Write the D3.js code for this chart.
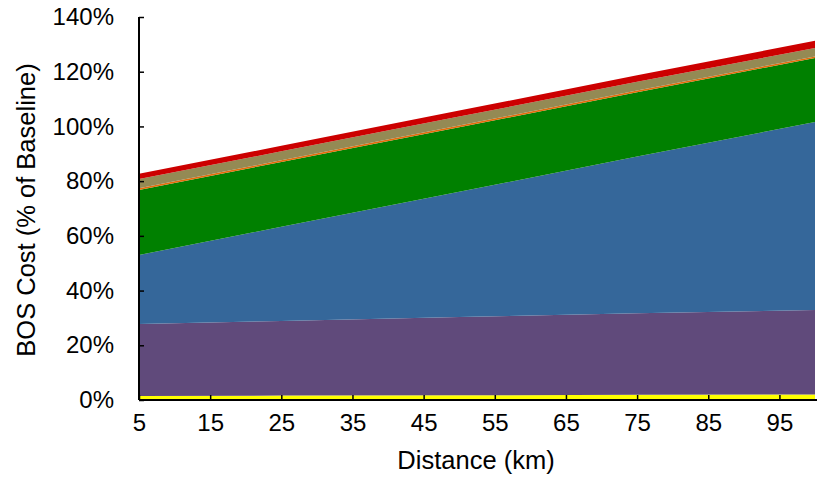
<!DOCTYPE html>
<html><head><meta charset="utf-8">
<script src="https://cdn.jsdelivr.net/npm/d3@7"></script>
<style>body{margin:0;background:#fff}svg{display:block}text{font-family:Arial,"Liberation Sans",sans-serif;fill:#000}</style>
</head><body><svg id="c" width="817" height="478"></svg>
<script>
const distances = [5, 25, 50, 75, 100];
const seriesNames = ["Development", "Substructure", "Electrical", "Assembly", "Port", "Engineering", "Soft"];
const seriesColors = ["#FFFF00", "#604A7B", "#35679A", "#008000", "#E46C0A", "#948A54", "#CC0000"];
const development  = [1.5, 1.6, 1.7, 1.9, 2.0];
const substructure = [26.3, 27.3, 28.6, 29.8, 30.9];
const electrical   = [25.2, 34.4, 45.8, 57.3, 68.7];
const assembly     = [23.8, 23.7, 23.6, 23.5, 23.4];
const port         = [0.6, 0.6, 0.6, 0.6, 0.6];
const engineering  = [3.4, 3.3, 3.3, 3.2, 3.1];
const soft         = [1.9, 2.0, 2.2, 2.4, 2.6];
const xTicks = [5, 15, 25, 35, 45, 55, 65, 75, 85, 95];
const yTicks = [0, 20, 40, 60, 80, 100, 120, 140];

const seriesValues = [development, substructure, electrical, assembly, port, engineering, soft];
const rows = distances.map((d, i) => {
  const r = {d};
  seriesNames.forEach((n, j) => r[n] = seriesValues[j][i]);
  return r;
});

const svg = d3.select("#c");
const x = d3.scaleLinear().domain([5, 100]).range([139, 815]);
const y = d3.scaleLinear().domain([0, 140]).range([400, 17]);

const stack = d3.stack().keys(seriesNames)(rows);
const area = d3.area().x(d => x(d.data.d)).y0(d => y(d[0])).y1(d => y(d[1]));

svg.append("g").selectAll("path").data(stack).join("path")
  .attr("d", area).attr("fill", (d, i) => seriesColors[i]);

// axes
const fs = 24;
const yAxis = svg.append("g").attr("transform", "translate(139,0)")
  .call(d3.axisLeft(y).tickValues(yTicks).tickFormat(d => d + "%").tickSizeInner(-5).tickSizeOuter(0).tickPadding(25));
const xAxis = svg.append("g").attr("transform", "translate(0,400)")
  .call(d3.axisBottom(x).tickValues(xTicks).tickFormat(d3.format("d")).tickSizeInner(-5).tickSizeOuter(0).tickPadding(14));
[yAxis, xAxis].forEach(a => {
  a.select(".domain").attr("stroke", "#000").attr("stroke-width", 2);
  a.selectAll(".tick line").attr("stroke", "#000").attr("stroke-width", 1.5);
  a.selectAll("text").attr("font-size", fs).attr("font-family", "Arial, 'Liberation Sans', sans-serif").attr("fill", "#000");
});
yAxis.select(".domain").attr("d", "M0,17V400");
xAxis.select(".domain").attr("d", "M139,0H817");

svg.append("text").attr("x", 476).attr("y", 469).attr("text-anchor", "middle")
  .attr("font-size", 25.5).text("Distance (km)");
svg.append("text").attr("transform", "translate(35,210) rotate(-90)").attr("text-anchor", "middle")
  .attr("font-size", 25.5).text("BOS Cost (% of Baseline)");
</script></body></html>
